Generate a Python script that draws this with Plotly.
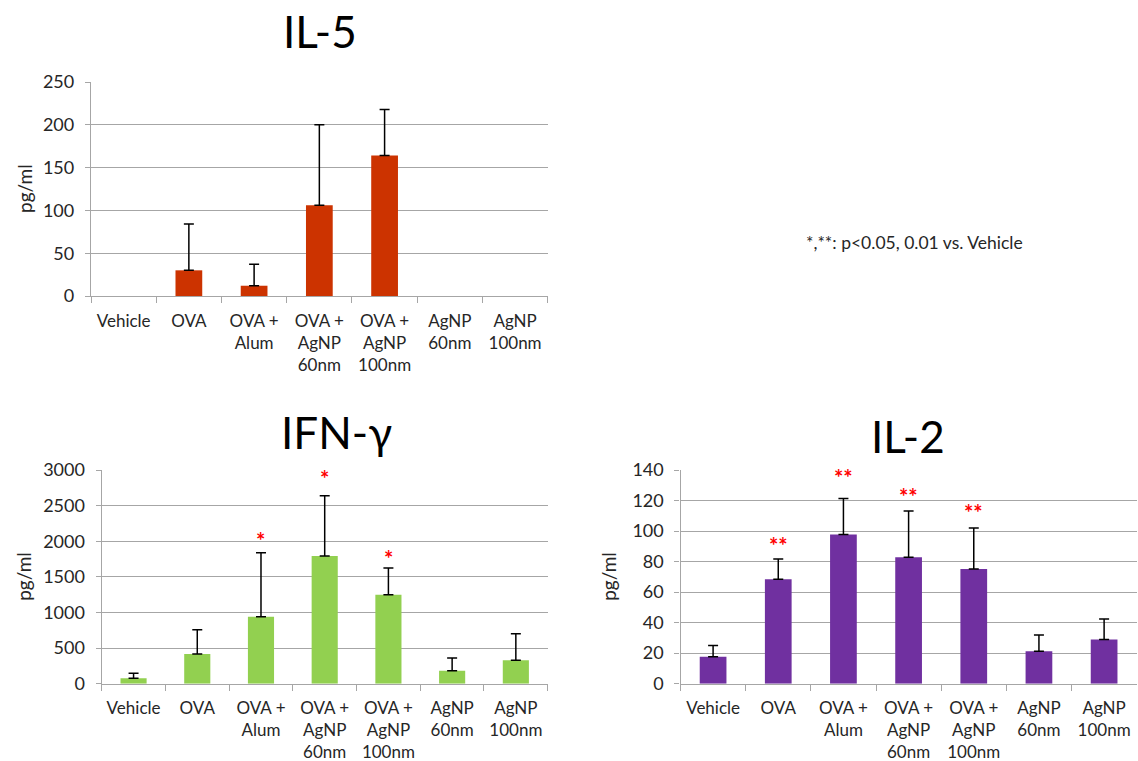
import plotly.graph_objects as go

W, H = 1138, 761

categories = ["Vehicle", "OVA", "OVA +<br>Alum", "OVA +<br>AgNP<br>60nm",
              "OVA +<br>AgNP<br>100nm", "AgNP<br>60nm", "AgNP<br>100nm"]

il5_mean = [0, 30, 12, 106, 164, 0, 0]
il5_sd = [0, 54, 25, 94, 54, 0, 0]

ifn_mean = [75, 416, 940, 1792, 1249, 182, 328]
ifn_sd = [70, 342, 899, 847, 375, 178, 374]
ifn_star_cat = [2, 3, 4]
ifn_star_y = [2100, 2971, 1848]

il2_mean = [17.7, 68.4, 97.8, 82.8, 75.1, 21.2, 29.0]
il2_sd = [7.4, 13.3, 23.6, 30.3, 26.9, 10.7, 13.4]
il2_star_cat = [1, 2, 3, 4]
il2_star_y = [94.6, 138.7, 126.9, 116.0]

note_text = "*,**: p<0.05, 0.01 vs. Vehicle"

FONT = "Lato, Calibri, Carlito, 'Open Sans', sans-serif"
GRID = "#a6a6a6"
TXT = "#262626"


def px(x):
    return x / W


def py(y):
    return 1 - y / H


fig = go.Figure()

panels = [
    dict(mean=il5_mean, sd=il5_sd, color="#CC3300",
         xd=[px(91), px(547.7)], yd=[py(296), py(82)], rng=[0, 250], dt=50,
         title="IL-5", tx=320, ty=31, ylab_x=24),
    dict(mean=ifn_mean, sd=ifn_sd, color="#92D050",
         xd=[px(101.7), px(547.7)], yd=[py(683.7), py(470)], rng=[0, 3000], dt=500,
         title="IFN-\u03b3", tx=336, ty=432, ylab_x=24),
    dict(mean=il2_mean, sd=il2_sd, color="#7030A0",
         xd=[px(680.5), px(1136.7)], yd=[py(683.7), py(470)], rng=[0, 140], dt=20,
         title="IL-2", tx=908, ty=436, ylab_x=609),
]

annotations = []
for i, p in enumerate(panels, start=1):
    xa = "x" if i == 1 else f"x{i}"
    ya = "y" if i == 1 else f"y{i}"
    # zero values (not detected) are drawn as no bar at all, as in the source figure
    shown = [v if v > 0 else None for v in p["mean"]]
    fig.add_trace(go.Bar(
        x=categories, y=shown, xaxis=xa, yaxis=ya, width=0.41,
        marker=dict(color=p["color"], line=dict(width=0)),
        error_y=dict(type="data", symmetric=False, array=p["sd"],
                     arrayminus=[0] * len(p["sd"]),
                     color="black", thickness=1.5, width=5),
        showlegend=False, hoverinfo="skip",
    ))
    xkey = "xaxis" if i == 1 else f"xaxis{i}"
    ykey = "yaxis" if i == 1 else f"yaxis{i}"
    fig.layout[xkey] = dict(
        domain=p["xd"], anchor=ya, type="category", range=[-0.5, 6.5],
        showline=True, linecolor=GRID, linewidth=1.3, automargin=False,
        ticks="outside", tickson="boundaries", ticklen=6, tickcolor=GRID,
        tickwidth=1.3, showgrid=False, fixedrange=True, tickangle=0,
        tickfont=dict(family=FONT, size=17, color=TXT),
        ticklabelstandoff=9,
    )
    fig.layout[ykey] = dict(
        domain=p["yd"], anchor=xa, range=p["rng"], dtick=p["dt"],
        showline=True, linecolor=GRID, linewidth=1.3, automargin=False,
        showgrid=True, gridcolor=GRID, gridwidth=1.3, zeroline=False,
        ticks="outside", ticklen=5, tickcolor=GRID, tickwidth=1.3,
        ticklabelstandoff=7,
        tickfont=dict(family=FONT, size=18, color=TXT), fixedrange=True,
    )
    annotations.append(dict(
        text=p["title"], xref="paper", yref="paper", x=px(p["tx"]), y=py(p["ty"]),
        xanchor="center", yanchor="middle", showarrow=False,
        font=dict(family=FONT, size=44, color="black"),
    ))
    annotations.append(dict(
        text="pg/ml", xref="paper", yref="paper", x=px(p["ylab_x"]),
        y=(p["yd"][0] + p["yd"][1]) / 2, textangle=-90,
        xanchor="center", yanchor="middle", showarrow=False,
        font=dict(family=FONT, size=19, color=TXT),
    ))

for c, yv in zip(ifn_star_cat, ifn_star_y):
    annotations.append(dict(
        text="<b>*</b>", xref="x2", yref="y2", x=categories[c], y=yv,
        xanchor="center", yanchor="middle", yshift=-6, showarrow=False,
        font=dict(family=FONT, size=22, color="red"),
    ))
for c, yv in zip(il2_star_cat, il2_star_y):
    annotations.append(dict(
        text="<b>**</b>", xref="x3", yref="y3", x=categories[c], y=yv,
        xanchor="center", yanchor="middle", yshift=-6, showarrow=False,
        font=dict(family=FONT, size=22, color="red"),
    ))

annotations.append(dict(
    text=note_text, xref="paper", yref="paper", x=px(914), y=py(242),
    xanchor="center", yanchor="middle", showarrow=False,
    font=dict(family=FONT, size=17.5, color=TXT),
))

fig.update_layout(
    width=W, height=H, margin=dict(l=0, r=0, t=0, b=0, autoexpand=False),
    paper_bgcolor="white", plot_bgcolor="white",
    annotations=annotations, bargap=0.59,
    font=dict(family=FONT, color=TXT),
)

fig.write_html("out.html", config={"displayModeBar": False},
               post_script="document.body.style.margin='0';")
